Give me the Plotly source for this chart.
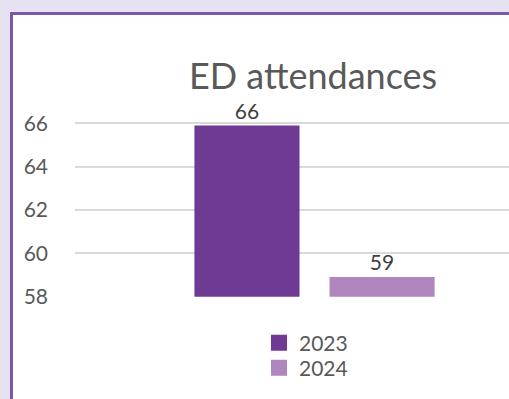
import plotly.graph_objects as go

W, H = 509, 399
categories = ["ED attendances"]
years = ["2023", "2024"]
values_2023 = [65.9]
values_2024 = [58.9]
colors = ["#6E3A94", "#B086BE"]
y_ticks = [58, 60, 62, 64, 66]
legend_ids = ["legend", "legend2"]

fig = go.Figure()
for name, vals, col, lg in zip(years, [values_2023, values_2024], colors, legend_ids):
    fig.add_trace(go.Bar(
        x=categories, y=vals, name=name, marker=dict(color=col, line=dict(width=0)),
        texttemplate="%{y:.0f}", textposition="outside", cliponaxis=False,
        textfont=dict(family="Lato", size=21, color="#404040"),
        showlegend=False,
    ))
    fig.add_trace(go.Scatter(
        x=[None], y=[None], mode="markers", name=name, legend=lg,
        marker=dict(symbol="square", size=18, color=col), showlegend=True,
    ))

def px_x(p):
    return p / W

def px_y(p):
    return 1 - p / H

legend_style = dict(xanchor="left", yanchor="middle",
                    font=dict(family="Lato", size=21, color="#595959"),
                    bgcolor="rgba(0,0,0,0)", itemsizing="trace")

fig.update_layout(
    width=W, height=H,
    margin=dict(l=0, r=0, t=0, b=0, autoexpand=False),
    paper_bgcolor="#E6E2F1",
    plot_bgcolor="rgba(0,0,0,0)",
    barmode="group",
    bargap=0.436,
    bargroupgap=0.222,
    title=dict(text="ED attendances", x=px_x(313), xanchor="center",
               y=px_y(76), yanchor="middle",
               font=dict(family="Lato", size=36, color="#595959")),
    xaxis=dict(domain=[px_x(75), 1], type="category", range=[-0.5, 0.406],
               showticklabels=False, showgrid=False, zeroline=False, showline=False),
    yaxis=dict(domain=[px_y(296.7), px_y(101.7)], range=[57.99, 67],
               tickvals=y_ticks, ticktext=[str(v) for v in y_ticks],
               showgrid=True, gridcolor="#D9D9D9", gridwidth=2,
               zeroline=False, showline=False, ticks="", automargin=False,
               ticklabelstandoff=26,
               tickfont=dict(family="Lato", size=21, color="#595959")),
    legend=dict(x=px_x(259), y=px_y(343), **legend_style),
    legend2=dict(x=px_x(259), y=px_y(368), **legend_style),
    shapes=[dict(type="rect", xref="paper", yref="paper", layer="below",
                 x0=px_x(11.5), x1=1.2, y0=-0.2, y1=px_y(13.5),
                 line=dict(color="#7B57A9", width=3), fillcolor="white")],
)

fig.write_html("out.html")
